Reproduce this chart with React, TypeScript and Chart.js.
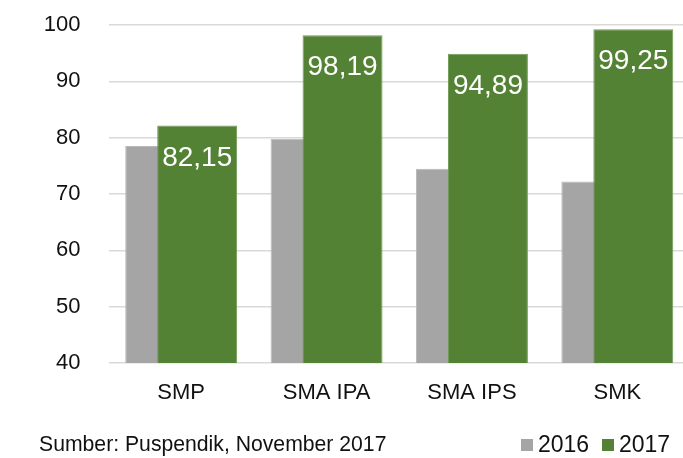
import React, { useEffect, useRef } from 'react';
import { Chart, registerables } from 'chart.js';

Chart.register(...registerables);

const categories = ['SMP', 'SMA IPA', 'SMA IPS', 'SMK'];
const seriesNames = ['2016', '2017'];
const values2016 = [78.5, 79.8, 74.5, 72.2];
const values2017 = [82.15, 98.19, 94.89, 99.25];
const yMin = 40;
const yMax = 100;
const yStep = 10;
const sourceText = 'Sumber: Puspendik, November 2017';

const FONT = "'Liberation Sans', Arial, Helvetica, sans-serif";
const GRAY = '#a5a5a5';
const GREEN = '#548235';

const fmt = (v: number) => v.toFixed(2).replace('.', ',');

export default function App() {
  const ref = useRef<HTMLCanvasElement>(null);

  useEffect(() => {
    const canvas = ref.current;
    if (!canvas) return;

    const plugin = {
      id: 'overlapLabelsLegend',
      afterLayout(chart: any) {
        // plot area: top at 25px, and continuing past the right edge of the picture
        const right = 690;
        const top = 25;
        const x = chart.scales.x;
        x.right = right;
        x.width = right - x.left;
        x.configure();
        const y = chart.scales.y;
        y.top = top;
        y.height = y.bottom - top;
        y.configure();
        chart.chartArea.right = right;
        chart.chartArea.width = right - chart.chartArea.left;
        chart.chartArea.top = top;
        chart.chartArea.height = chart.chartArea.bottom - top;
      },
      beforeDatasetDraw(_chart: any, args: any) {
        if (args.index === 1) return false;
        return true;
      },
      afterDatasetsDraw(chart: any) {
        const ctx = chart.ctx;
        const area = chart.chartArea;
        const meta = chart.getDatasetMeta(1);
        ctx.save();
        ctx.beginPath();
        ctx.rect(area.left, area.top, area.right - area.left, area.bottom - area.top);
        ctx.clip();
        meta.data.forEach((el: any) => el.draw(ctx));
        ctx.restore();
        ctx.save();
        ctx.fillStyle = '#ffffff';
        ctx.font = `28px ${FONT}`;
        ctx.textAlign = 'center';
        ctx.textBaseline = 'alphabetic';
        meta.data.forEach((el: any, i: number) => {
          ctx.fillText(fmt(values2017[i]), el.x, el.y + 40);
        });
        ctx.restore();
      },
      afterDraw(chart: any) {
        const ctx = chart.ctx;
        ctx.save();
        ctx.fillStyle = '#111111';
        ctx.textBaseline = 'alphabetic';
        ctx.textAlign = 'left';
        ctx.font = `21.2px ${FONT}`;
        ctx.fillText(sourceText, 39, 451);
        ctx.font = `23px ${FONT}`;
        const colors = [GRAY, GREEN];
        const starts = [521, 602];
        seriesNames.forEach((name, i) => {
          ctx.fillStyle = colors[i];
          ctx.fillRect(starts[i], 439, 12, 12);
          ctx.fillStyle = '#111111';
          ctx.fillText(name, starts[i] + 17, 452);
        });
        ctx.restore();
      },
    };

    const chart = new Chart(canvas, {
      type: 'bar',
      data: {
        labels: categories,
        datasets: [
          {
            label: seriesNames[0],
            data: values2016,
            backgroundColor: GRAY,
            borderColor: '#b9b9b9',
            borderWidth: 1,
            categoryPercentage: 0.44,
            barPercentage: 2.5,
          },
          {
            label: seriesNames[1],
            data: values2017,
            backgroundColor: GREEN,
            borderColor: '#6f9a55',
            borderWidth: 1,
            categoryPercentage: 0.44,
            barPercentage: 2.5,
          },
        ],
      },
      options: {
        responsive: false,
        animation: false,
        devicePixelRatio: 1,
        layout: { padding: { left: 0, right: 0, top: 10, bottom: 34.6 } },
        plugins: {
          legend: { display: false },
          tooltip: { enabled: false },
        },
        scales: {
          x: {
            grid: { display: false, drawTicks: false },
            border: { display: false },
            ticks: {
              color: '#111111',
              font: { family: FONT, size: 22 },
              padding: 17,
              maxRotation: 0,
              autoSkip: false,
            },
          },
          y: {
            min: yMin,
            max: yMax,
            afterFit(scale: any) {
              scale.width = 108.5;
            },
            grid: { color: '#d9d9d9', lineWidth: 1.5, drawTicks: false },
            border: { display: false },
            ticks: {
              stepSize: yStep,
              color: '#111111',
              font: { family: FONT, size: 22 },
              padding: 28,
            },
          },
        },
      },
      plugins: [plugin],
    } as any);

    return () => chart.destroy();
  }, []);

  return (
    <div style={{ position: 'fixed', left: 0, top: 0, width: 683, height: 458, background: '#fff' }}>
      <canvas ref={ref} width={683} height={458} style={{ display: 'block', width: 683, height: 458 }} />
    </div>
  );
}
